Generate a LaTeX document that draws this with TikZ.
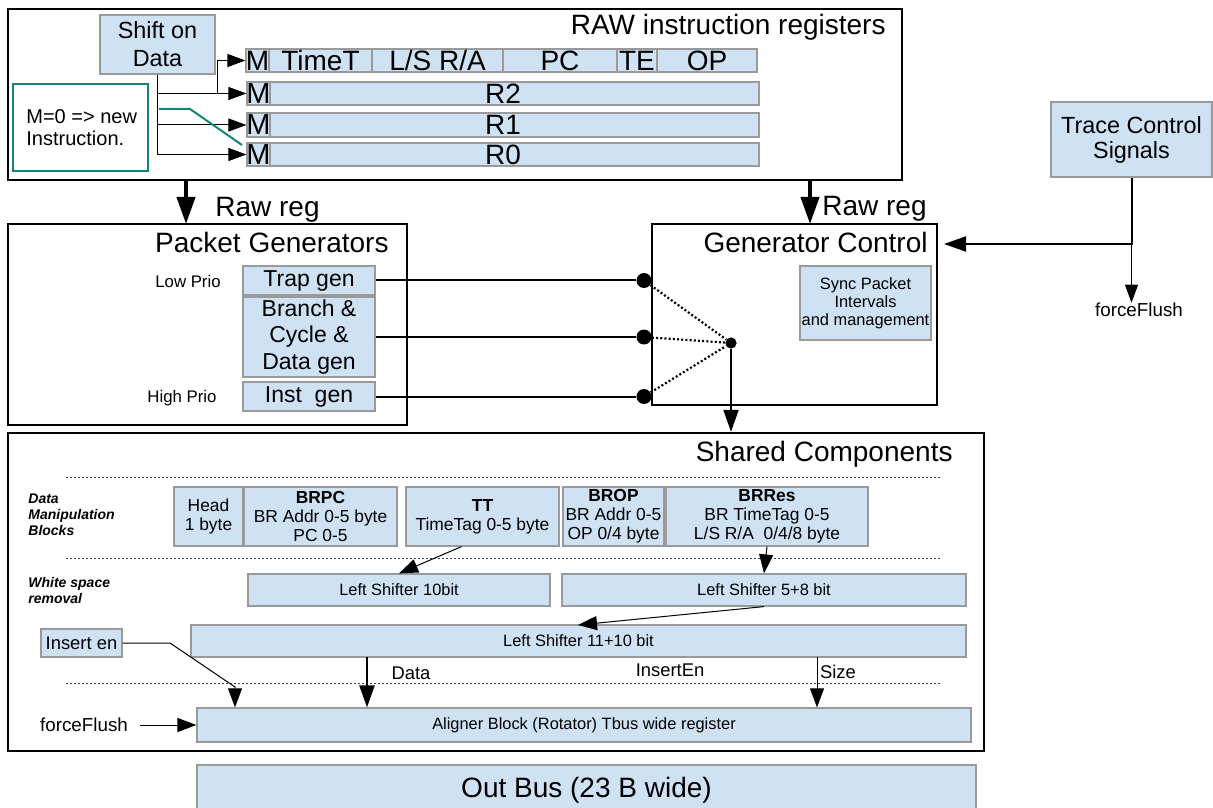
\documentclass[tikz,border=0pt]{standalone}
\usepackage{fontspec}
\setmainfont{Liberation Sans}
\usetikzlibrary{arrows.meta,fit,calc}
\definecolor{lb}{HTML}{CFE2F3}
\definecolor{bd}{HTML}{9A9A9A}
\definecolor{tl}{HTML}{13837D}
\newcommand\fsz[2]{\fontsize{#1}{#2}\selectfont}
\tikzset{
 blk/.style={draw=bd, fill=lb, line width=0.6pt, inner sep=0pt},
 lbl/.style={inner sep=0pt, align=center},
 frm/.style={draw=black, line width=1.2pt, inner sep=0pt},
 thinarr/.style={line width=0.5pt, -{Triangle[length=9pt,width=6.5pt]}},
 bigarr/.style={line width=2pt, -{Triangle[length=13.5pt,width=9pt]}},
 medarr/.style={line width=1pt, -{Triangle[length=11pt,width=7.5pt]}},
 darr/.style={line width=1.2pt, -{Triangle[length=11pt,width=7.5pt]}},
 sarr/.style={line width=0.5pt, -{Triangle[length=9.5pt,width=7pt]}},
 sepline/.style={line width=0.5pt, draw=black!75, dash pattern=on 1pt off 1pt},
 gdots/.style={line width=1.1pt, dash pattern=on 1pt off 1.1pt},
 bigdot/.style={circle, fill=black, inner sep=0pt, minimum size=7.5pt},
 smalldot/.style={circle, fill=black, inner sep=0pt, minimum size=5.6pt},
 ttl/.style={inner sep=0pt, font=\fsz{14}{16}},
 plain/.style={inner sep=0pt, align=center},
}
% box: name, corner1, corner2, font, text
\newcommand\bx[5]{\node[blk, fit={#2 #3}, label={[lbl,font=#4]center:{#5}}] (#1) {};}
\begin{document}
\begin{tikzpicture}[x=0.5pt,y=-0.5pt]
\useasboundingbox (0,0) rectangle (1213,807);

% ---------- RAW instruction registers ----------
\node[frm, fit={(8,9) (902,180)}] (raw) {};
\node[ttl, anchor=base east] (rawt) at (886,35) {RAW instruction registers};
\bx{shift}{(100,15)}{(215,74)}{\fsz{11.7}{14}}{Shift on\\Data}

\bx{m0}{(246,49)}{(269,72)}{\fsz{14}{16}}{M}
\bx{tt0}{(269,49)}{(372,72)}{\fsz{14}{16}}{TimeT}
\bx{ls0}{(372,49)}{(503,72)}{\fsz{14}{16}}{L/S R/A}
\bx{pc0}{(503,49)}{(617,72)}{\fsz{14}{16}}{PC}
\bx{te0}{(617,49)}{(657,72)}{\fsz{14}{16}}{TE}
\bx{op0}{(657,49)}{(757,72)}{\fsz{14}{16}}{OP}

\bx{r2}{(247,82)}{(759,105)}{\fsz{14}{16}}{R2}
\bx{m2}{(247,82)}{(270,105)}{\fsz{14.5}{16}}{M}
\bx{r1}{(247,113)}{(759,137)}{\fsz{14}{16}}{R1}
\bx{m1}{(247,113)}{(270,137)}{\fsz{14.5}{16}}{M}
\bx{r0}{(247,143)}{(759,166)}{\fsz{14}{16}}{R0}
\bx{mr0}{(247,143)}{(270,166)}{\fsz{14.5}{16}}{M}

\node[draw=tl, line width=1pt, fill=white, inner sep=0pt, fit={(13,84) (148,171)}] (note) {};
\node[inner sep=0pt, anchor=west, align=left, font=\fsz{10}{11}] (notet) at (26,128) {M=0 => new\\Instruction.};

\draw[thinarr] (shift.south) |- (mr0.west);
\draw[thinarr] (shift.south |- m2.west) -- (m2.west);
\draw[thinarr] (shift.south |- m1.west) -- (m1.west);
\coordinate (j0) at (217,93.5);
\draw[thinarr] (j0) |- (m0.west);
\coordinate (tl1) at (159,109);
\coordinate (tl2) at (190,109);
\coordinate (tl3) at (242,145);
\draw[tl, line width=1pt] (tl1) -- (tl2) -- (tl3);

% ---------- Raw reg arrows ----------
\coordinate (pgin) at (186,224);
\coordinate (gcin) at (810,224);
\draw[bigarr] (raw.south -| pgin) -- (pgin);
\draw[bigarr] (raw.south -| gcin) -- (gcin);
\node[ttl, anchor=base west] (rrl) at (215,217) {Raw reg};
\node[ttl, anchor=base west] (rrr) at (822,216) {Raw reg};

% ---------- Packet Generators ----------
\node[frm, line width=1pt, fit={(8,224) (407,425)}] (pg) {};
\node[ttl, anchor=base east] (pgt) at (389,253) {Packet Generators};
\bx{trap}{(243,266)}{(375,295)}{\fsz{11.5}{13.3}}{Trap gen}
\bx{branch}{(243,297)}{(375,377)}{\fsz{11.5}{13.3}}{Branch \&\\Cycle \&\\Data gen}
\bx{inst}{(243,382)}{(375,411)}{\fsz{11.5}{13.3}}{Inst~ gen}
\node[plain, font=\fsz{8.4}{10}] (lowp) at (188,281) {Low Prio};
\node[plain, font=\fsz{8.4}{10}] (highp) at (182,398) {High Prio};

% ---------- Generator Control ----------
\node[frm, line width=1pt, fit={(652,224) (937,405)}] (gc) {};
\node[ttl, anchor=base east] (gct) at (928,253) {Generator Control};
\bx{sync}{(800,266)}{(931,340)}{\fsz{8.2}{8.9}}{Sync Packet\\Intervals\\and management}
\node[bigdot] (d1) at (644,280.5) {};
\node[bigdot] (d2) at (644,337) {};
\node[bigdot] (d3) at (644,396.5) {};
\node[smalldot] (sd) at (731,343) {};
\draw[line width=1pt] (trap.east) -- (d1);
\draw[line width=1pt] (branch.east) -- (d2);
\draw[line width=1pt] (inst.east) -- (d3);
\draw[gdots] (d1) -- (sd);
\draw[gdots] (d2) -- (sd);
\draw[gdots] (d3) -- (sd);

% ---------- Trace Control ----------
\bx{trace}{(1051,102)}{(1212,177)}{\fsz{11.7}{12.5}}{Trace Control\\Signals}
\coordinate (tj) at (1131.5,244);
\draw[medarr, shorten >=3pt] (trace.south) -- (tj) -- (gc.east |- tj);
\node[plain, font=\fsz{9.4}{11}] (ff1) at (1139,310) {forceFlush};
\draw[thinarr] (tj) -- (tj |- ff1.north);

% ---------- Shared Components ----------
\node[frm, fit={(8,433) (984,751)}] (sc) {};
\node[ttl, anchor=base east] (sct) at (953,461) {Shared Components};
\draw[medarr] (sd) -- (sd |- sc.north);

\draw[sepline] (66,477) -- (942,477);
\draw[sepline] (66,558) -- (942,558);
\draw[sepline] (66,683) -- (942,683);

\node[inner sep=0pt, anchor=west, align=left, font=\fsz{7}{8}\bfseries\itshape] (dmb) at (28,515) {Data\\Manipulation\\Blocks};
\node[inner sep=0pt, anchor=west, align=left, font=\fsz{7}{8}\bfseries\itshape] (wsr) at (28,590) {White space\\removal};

\bx{head}{(174,487)}{(243,546)}{\fsz{8.7}{9.6}}{Head\\1 byte}
\bx{brpc}{(244,487)}{(397,546)}{\fsz{8.7}{9.6}}{\textbf{BRPC}\\BR Addr 0-5 byte\\PC 0-5}
\bx{tt}{(406,487)}{(559,546)}{\fsz{8.7}{9.6}}{\textbf{TT}\\TimeTag 0-5 byte}
\bx{brop}{(563,487)}{(664,546)}{\fsz{8.7}{9.6}}{\textbf{BROP}\\BR Addr 0-5\\OP 0/4 byte}
\bx{brres}{(666,487)}{(868,546)}{\fsz{8.7}{9.6}}{\textbf{BRRes}\\BR TimeTag 0-5\\L/S R/A~ 0/4/8 byte}

\bx{ls10}{(248,574)}{(550,606)}{\fsz{8.2}{10}}{Left Shifter 10bit}
\bx{ls58}{(562,574)}{(966,606)}{\fsz{8.2}{10}}{Left Shifter 5+8 bit}
\bx{ls1110}{(191,625)}{(966,657)}{\fsz{8.2}{10}}{Left Shifter 11+10 bit}
\bx{insen}{(41,629)}{(122,657)}{\fsz{9.2}{11}}{Insert en}
\bx{aligner}{(197,708)}{(971,742)}{\fsz{8.2}{10}}{Aligner Block (Rotator) Tbus wide register}

\draw[sarr] ($(tt.south)+(-21,0)$) -- (ls10.north);
\draw[sarr] (brres.south) -- (ls58.north);
\coordinate (c1) at (578,625);
\draw[sarr] (ls58.south) -- (c1);
\coordinate (c2) at (170,643);
\coordinate (c3) at (235,687);
\draw[sarr] (insen.east) -- (c2) -- (c3) -- (aligner.north -| c3);
\coordinate (cd) at (367,657);
\draw[darr] (cd) -- (aligner.north -| cd);
\coordinate (cs) at (817,657);
\draw[sarr] (cs) -- (aligner.north -| cs);
\node[plain, font=\fsz{9.2}{11}] (datal) at (411,673) {Data};
\node[plain, font=\fsz{9.2}{11}] (insl) at (670,670) {InsertEn};
\node[plain, font=\fsz{9.2}{11}] (sizel) at (838,672) {Size};
\node[plain, font=\fsz{9.4}{11}] (ff2) at (84,725) {forceFlush};
\draw[sarr, shorten <=6pt] (ff2.east) -- (aligner.west);

% ---------- Out Bus ----------
\bx{outbus}{(197,765)}{(976,815)}{\fsz{14}{16}}{Out Bus (23 B wide)}
\end{tikzpicture}
\end{document}
